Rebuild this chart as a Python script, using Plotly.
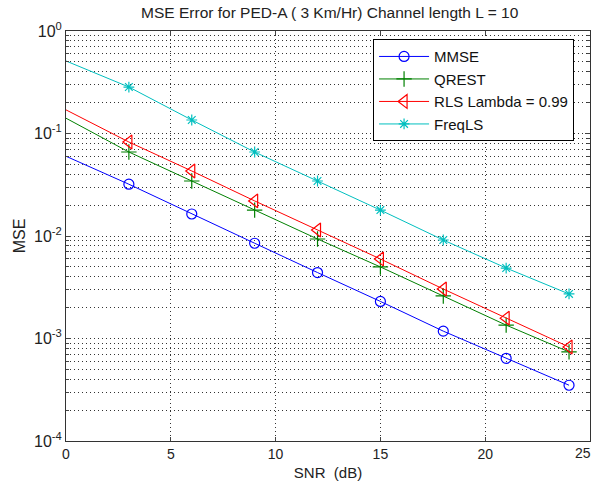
import plotly.graph_objects as go

snr = [0, 3, 6, 9, 12, 15, 18, 21, 24]
mmse = [0.060, 0.032, 0.0164, 0.0085, 0.0044, 0.0023, 0.00118, 0.00064, 0.00035]
qrest = [0.141, 0.066, 0.0344, 0.0179, 0.00935, 0.00499, 0.0026, 0.00135, 0.00074]
rls = [0.170, 0.0826, 0.0431, 0.0220, 0.01145, 0.00597, 0.00304, 0.00158, 0.000826]
freqls = [0.51, 0.284, 0.1355, 0.066, 0.0344, 0.0179, 0.00914, 0.00487, 0.00272]

names = ["MMSE", "QREST", "RLS Lambda = 0.99", "FreqLS"]
colors = ["#0000ff", "#008000", "#ff0000", "#00bfbf"]
symbols = ["circle-open", "cross-thin-open", "triangle-left-open", "asterisk-open"]
sizes = [10, 11, 12, 9]
series = [mmse, qrest, rls, freqls]

xtick_vals = [0, 5, 10, 15, 20]
ytick_vals = [1e-4, 1e-3, 1e-2, 1e-1, 1]
ytick_text = ["10<sup>-4</sup>", "10<sup>-3</sup>", "10<sup>-2</sup>", "10<sup>-1</sup>", "10<sup>0</sup>"]

fig = go.Figure()
for name, col, sym, sz, ys in zip(names, colors, symbols, sizes, series):
    fig.add_trace(go.Scatter(x=snr[:2], y=ys[:2], mode="lines",
                             line=dict(color=col, width=1), showlegend=False,
                             hoverinfo="skip"))
    fig.add_trace(go.Scatter(x=snr[1:], y=ys[1:], mode="lines+markers", name=name,
                             line=dict(color=col, width=1),
                             marker=dict(symbol=sym, size=sz, color=col,
                                         line=dict(color=col, width=1.2))))

font = "Liberation Sans, Arial, sans-serif"
gdash = "1px,3px"
gcol = "#333"
fig.update_layout(
    width=594, height=489,
    margin=dict(l=66, r=4, t=31, b=48),
    paper_bgcolor="white", plot_bgcolor="white",
    font=dict(family=font, size=14, color="#222"),
    title=dict(text="MSE Error for PED-A ( 3 Km/Hr) Channel length L = 10",
               x=0.555, xanchor="center", y=0.975, yanchor="middle",
               font=dict(size=15.5, family=font, color="#222")),
    legend=dict(x=0.586, y=0.98, xanchor="left", yanchor="top",
                bordercolor="black", borderwidth=1, bgcolor="white",
                font=dict(size=15, family=font, color="#111"),
                itemwidth=50, tracegroupgap=0),
    xaxis=dict(range=[0, 25], tickvals=xtick_vals, ticks="inside", ticklen=4,
               showline=True, linecolor="#333", linewidth=1, mirror="ticks",
               showgrid=True, gridcolor=gcol, griddash=gdash, gridwidth=1,
               zeroline=False,
               title=dict(text="SNR  (dB)", standoff=6, font=dict(size=15)),
               tickfont=dict(size=14)),
    yaxis=dict(type="log", range=[-4, 0], tickvals=ytick_vals, ticktext=ytick_text,
               ticks="inside", ticklen=5, showline=True, linecolor="#333", linewidth=1,
               mirror="allticks", showgrid=True, gridcolor=gcol, griddash=gdash,
               gridwidth=1, zeroline=False,
               minor=dict(ticks="inside", ticklen=3, showgrid=True, gridcolor=gcol,
                          griddash=gdash, gridwidth=1, dtick="D1"),
               title=dict(text="MSE", standoff=4, font=dict(size=16)),
               tickfont=dict(size=16)),
    annotations=[dict(text="25", x=1, xref="paper", y=0, yref="paper",
                      xanchor="right", yanchor="top", xshift=3, yshift=-2,
                      showarrow=False,
                      font=dict(size=14, family=font, color="#222"))],
)

fig.write_html("out.html")
